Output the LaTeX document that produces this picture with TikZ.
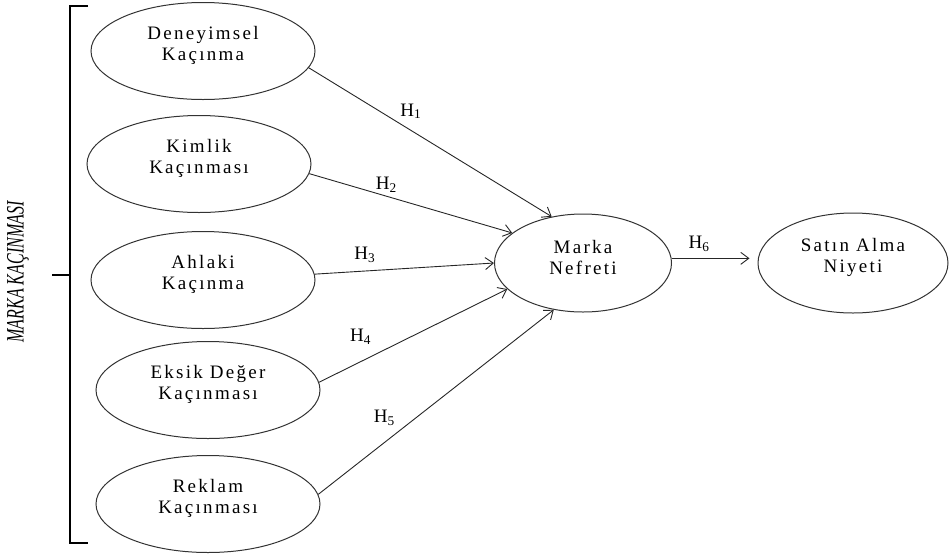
\documentclass[tikz,border=0pt]{standalone}
\usepackage{fontspec}
\usepackage{graphicx}
\setmainfont{Liberation Serif}
\usetikzlibrary{shapes.geometric,arrows.meta}
\newcommand{\boxfont}{\fontsize{19}{21}\selectfont\addfontfeatures{LetterSpace=12}}
\tikzset{
	construct/.style={ellipse, draw=black!80, line width=1pt, inner sep=0pt, minimum width=224, minimum height=97},
	ctext/.style={font=\boxfont, align=center, yshift=6pt, inner sep=0pt},
	hyp/.style={draw=black!85, line width=0.9pt, -{Straight Barb[length=8pt,width=12pt]}},
	hlab/.style={font=\fontsize{19}{19}\selectfont, inner sep=1pt},
}
\begin{document}
\begin{tikzpicture}[x=1pt,y=-1pt]
	\useasboundingbox (0,0) rectangle (951,558);
	\node[construct, label={[ctext]center:{Deneyimsel\\Kaçınma}}] (dene) at (203,51) {};
	\node[construct, label={[ctext]center:{Kimlik\\Kaçınması}}] (kim) at (199,164) {};
	\node[construct, label={[ctext]center:{Ahlaki\\Kaçınma}}] (ahl) at (203,280) {};
	\node[construct, label={[ctext]center:{Eksik Değer\\Kaçınması}}] (eks) at (208,390) {};
	\node[construct, label={[ctext]center:{Reklam\\Kaçınması}}] (rek) at (208,504) {};
	\node[construct, minimum width=177, minimum height=98, label={[ctext]center:{Marka\\Nefreti}}] (nef) at (583,263) {};
	\node[construct, minimum width=190, minimum height=100, label={[ctext]center:{Satın Alma\\Niyeti}}] (sat) at (853,263) {};
	\draw[line width=2.5pt] (88,6) -- (70,6) -- (70,543) -- (88,543) (70,275) -- (52,275);
	\node[rotate=90, font=\fontsize{25}{25}\selectfont\itshape] (kac) at (18,272) {\scalebox{0.64}[1]{MARKA KAÇINMASI}};
	\draw[hyp] (dene.-9) -- node[hlab, pos=.42, above=10] {H\textsubscript{1}} (nef.124);
	\draw[hyp] (kim.-5) -- node[hlab, pos=.38, above=2] {H\textsubscript{2}} (nef.157);
	\draw[hyp] (ahl.3) -- node[hlab, pos=.28, above=7] {H\textsubscript{3}} (nef.west);
	\draw[hyp] (eks.4) -- node[hlab, pos=.22, above=16] {H\textsubscript{4}} (nef.199);
	\draw[hyp] (rek.5) -- node[hlab, pos=.28, above=16] {H\textsubscript{5}} (nef.238);
	\draw[hyp, shorten >=8pt] (nef.3) -- node[hlab, pos=.32, above=5] {H\textsubscript{6}} (nef.3 -| sat.west);
\end{tikzpicture}
\end{document}
